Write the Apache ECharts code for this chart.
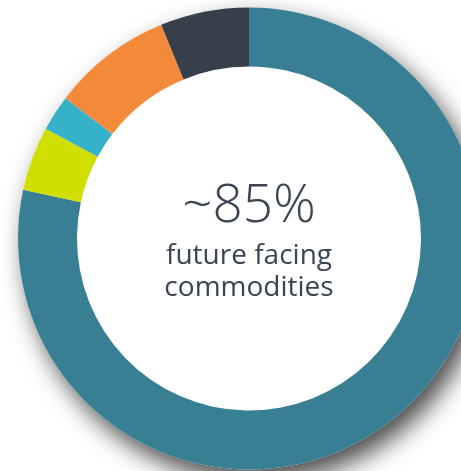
<!DOCTYPE html>
<html>
<head>
<meta charset="utf-8">
<script src="https://cdn.jsdelivr.net/npm/echarts@6/dist/echarts.min.js"></script>
<style>
html,body{margin:0;padding:0;background:#ffffff;}
#chart{width:461px;height:471px;}
</style>
</head>
<body>
<div id="chart"></div>
<script>
const categories = ['Teal', 'Lime', 'Light blue', 'Orange', 'Dark'];
const values = [78.3, 4.5, 2.5, 8.4, 6.2];
const colors = ['#387f93', '#d0de00', '#35b1ca', '#f28a3a', '#363f4a'];
const headline = '~85%';
const subLines = ['future facing', 'commodities'];

const total = values.reduce((a, b) => a + b, 0);
const chart = echarts.init(document.getElementById('chart'), null, {renderer: 'canvas'});
const textColor = '#3a4551';
const center = [249, 238.5];
chart.setOption({
  animation: false,
  backgroundColor: '#ffffff',
  series: [
    {
      type: 'pie',
      silent: true,
      center: center,
      radius: [0, 231],
      z: 1,
      label: {show: false},
      labelLine: {show: false},
      itemStyle: {
        color: '#ffffff',
        shadowColor: 'rgba(0,0,0,0.7)',
        shadowBlur: 24,
        shadowOffsetX: 8,
        shadowOffsetY: 12
      },
      data: [{name: 'backdrop', value: total}]
    },
    {
      type: 'pie',
      silent: true,
      center: center,
      radius: [172, 231],
      startAngle: 90,
      clockwise: true,
      z: 2,
      label: {show: false},
      labelLine: {show: false},
      itemStyle: {borderWidth: 0},
      data: categories.map((c, i) => ({name: c, value: values[i], itemStyle: {color: colors[i]}}))
    }
  ],
  graphic: [
    {
      type: 'text', x: center[0], y: 180, z: 10,
      style: {text: headline, fill: textColor, font: '300 53px "Open Sans"', textAlign: 'center', textVerticalAlign: 'top'}
    },
    {
      type: 'text', x: center[0], y: 242, z: 10,
      style: {text: subLines[0], fill: textColor, font: '400 28px "Open Sans"', textAlign: 'center', textVerticalAlign: 'top'}
    },
    {
      type: 'text', x: center[0], y: 274, z: 10,
      style: {text: subLines[1], fill: textColor, font: '400 28px "Open Sans"', textAlign: 'center', textVerticalAlign: 'top'}
    }
  ]
});
</script>
</body>
</html>
